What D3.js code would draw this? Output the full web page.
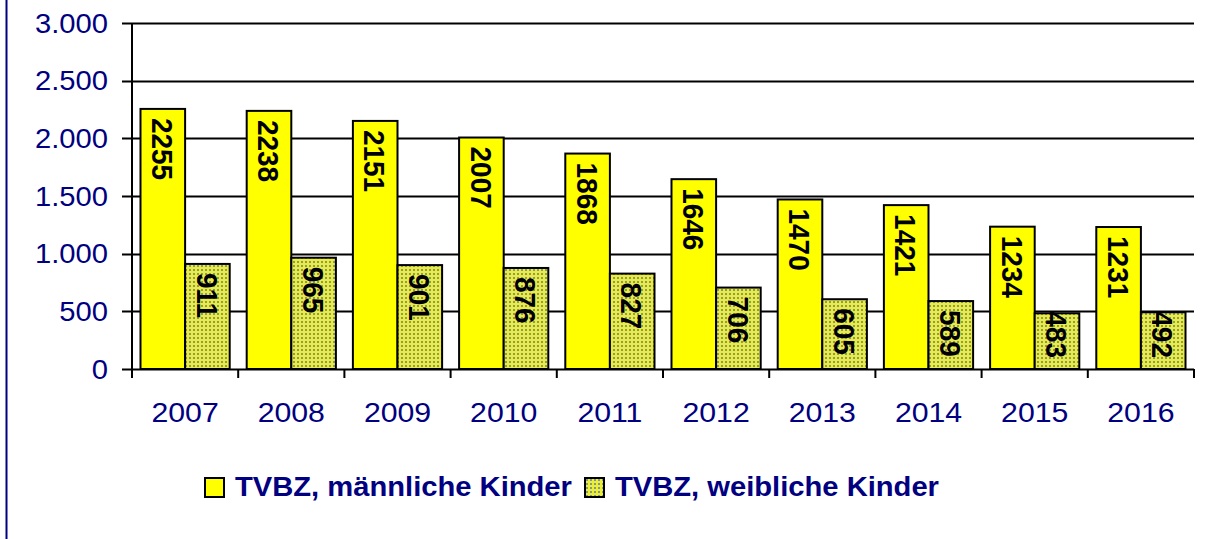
<!DOCTYPE html>
<html>
<head>
<meta charset="utf-8">
<script src="https://cdn.jsdelivr.net/npm/d3@7"></script>
<style>
  html, body { margin: 0; padding: 0; background: #fff; }
  svg { display: block; font-family: "Liberation Sans", Arial, sans-serif; }
</style>
</head>
<body>
<div id="chart"></div>
<script>
const years = ["2007", "2008", "2009", "2010", "2011", "2012", "2013", "2014", "2015", "2016"];
const seriesNames = ["TVBZ, männliche Kinder", "TVBZ, weibliche Kinder"];
const maleValues = [2255, 2238, 2151, 2007, 1868, 1646, 1470, 1421, 1234, 1231];
const femaleValues = [911, 965, 901, 876, 827, 706, 605, 589, 483, 492];
const yTicks = [0, 500, 1000, 1500, 2000, 2500, 3000];

const W = 1211, H = 539;
const m = { left: 132, right: 17, top: 23, bottom: 170 };
const navy = "#000080";
const sx = 1.08; // bild ist waagrecht leicht gestreckt
const fmt = v => v === 0 ? "0" : d3.format(",")(v).replace(/,/g, ".");

const svg = d3.select("#chart").append("svg").attr("width", W).attr("height", H);

// muster für die weiblichen balken
const defs = svg.append("defs");
const pat = defs.append("pattern").attr("id", "dots")
  .attr("width", 4).attr("height", 4).attr("patternUnits", "userSpaceOnUse");
pat.append("rect").attr("width", 4).attr("height", 4).attr("fill", "#eeee30");
pat.append("rect").attr("x", 1).attr("y", 1).attr("width", 2).attr("height", 2).attr("fill", "#7f93a0");

// linker rand
svg.append("line").attr("x1", 6.5).attr("x2", 6.5).attr("y1", 0).attr("y2", H)
  .attr("stroke", navy).attr("stroke-width", 2);

const x0 = d3.scaleBand().domain(years).range([m.left, W - m.right]);
const x1 = d3.scaleBand().domain(seriesNames)
  .range([x0.bandwidth() * 0.08, x0.bandwidth() * 0.92]);
const y = d3.scaleLinear().domain([0, 3000]).range([H - m.bottom, m.top]);

// gitterlinien
svg.append("g").selectAll("line").data(yTicks).join("line")
  .attr("x1", m.left - 10).attr("x2", W - m.right)
  .attr("y1", d => Math.round(y(d)) + 0.5).attr("y2", d => Math.round(y(d)) + 0.5)
  .attr("stroke", "#000").attr("stroke-width", 2);

// y-achse
svg.append("line").attr("x1", m.left).attr("x2", m.left)
  .attr("y1", y(3000)).attr("y2", y(0) + 9).attr("stroke", "#000").attr("stroke-width", 2);
svg.append("g").selectAll("text").data(yTicks).join("text")
  .attr("transform", d => `translate(108,${y(d)}) scale(${sx},1)`).attr("dy", "0.36em")
  .attr("text-anchor", "end").attr("fill", navy)
  .style("font-size", "27px").text(fmt);

// x-achse
const bounds = years.map(d => x0(d)).concat([x0.range()[1]]);
svg.append("g").selectAll("line").data(bounds).join("line")
  .attr("x1", d => d).attr("x2", d => d)
  .attr("y1", y(0)).attr("y2", y(0) + 9)
  .attr("stroke", "#000").attr("stroke-width", 2);
svg.append("g").selectAll("text").data(years).join("text")
  .attr("transform", d => `translate(${x0(d) + x0.bandwidth() / 2},422) scale(${sx},1)`)
  .attr("text-anchor", "middle").attr("fill", navy)
  .style("font-size", "28px").text(d => d);

// balken
const rows = [];
years.forEach((yr, i) => {
  rows.push({ year: yr, s: seriesNames[0], v: maleValues[i] });
  rows.push({ year: yr, s: seriesNames[1], v: femaleValues[i] });
});
const fillOf = s => s === seriesNames[0] ? "#ffff00" : "url(#dots)";

svg.append("g").selectAll("rect").data(rows).join("rect")
  .attr("x", d => x0(d.year) + x1(d.s))
  .attr("y", d => y(d.v))
  .attr("width", x1.bandwidth())
  .attr("height", d => y(0) - y(d.v))
  .attr("fill", d => fillOf(d.s))
  .attr("stroke", "#000").attr("stroke-width", 2);

// beschriftungen, um 90° gedreht
svg.append("g").selectAll("text").data(rows).join("text")
  .style("font-size", "28px").style("font-weight", "bold").attr("fill", "#000")
  .text(d => d.v)
  .each(function (d) {
    const len = this.getComputedTextLength();
    const cx = x0(d.year) + x1(d.s) + x1.bandwidth() / 2;
    const start = Math.min(y(d.v) + 9, y(0) - 11 - len);
    d3.select(this).attr("transform", `translate(${cx},${start}) scale(${sx},1) rotate(90)`)
      .attr("dy", "0.36em");
  });

// legende
const leg = [{ s: seriesNames[0], x: 205 }, { s: seriesNames[1], x: 585 }];
const lg = svg.append("g").selectAll("g").data(leg).join("g")
  .attr("transform", d => `translate(${d.x},478)`);
lg.append("rect").attr("width", 19).attr("height", 19)
  .attr("fill", d => fillOf(d.s)).attr("stroke", "#000").attr("stroke-width", 2);
lg.append("text").attr("transform", `translate(30,18) scale(${sx},1)`)
  .attr("fill", navy).style("font-size", "27px").style("font-weight", "bold")
  .text(d => d.s);
</script>
</body>
</html>
